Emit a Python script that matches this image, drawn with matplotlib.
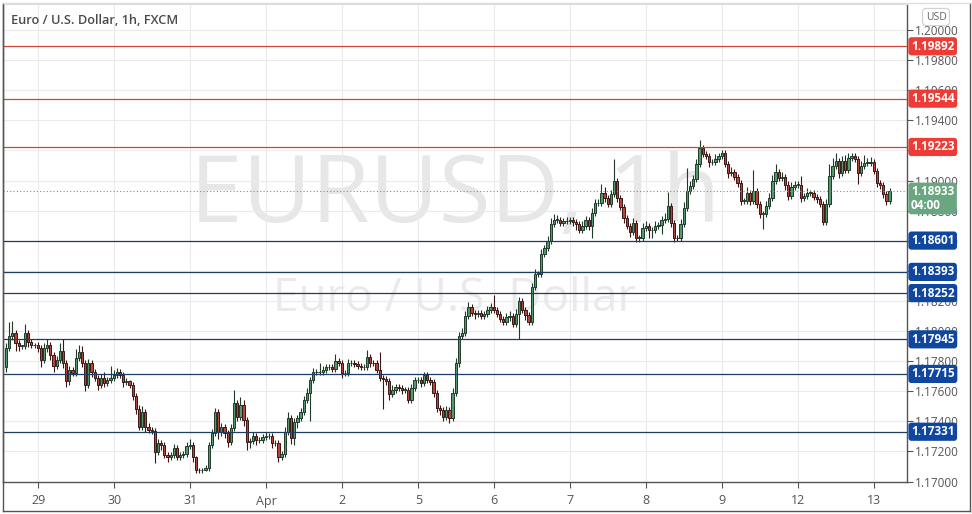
import matplotlib
matplotlib.use("Agg")
import matplotlib.pyplot as plt
import numpy as np
from matplotlib.lines import Line2D
from matplotlib.transforms import blended_transform_factory

# Data: EUR/USD 1h candles (closes), open = previous close
first_open = 1.1776
closes = [
    1.1789, 1.1797, 1.1799, 1.1792, 1.1790, 1.1790, 1.17985, 1.17925, 1.17905, 1.1791,
    1.1789, 1.1781, 1.1789, 1.17905, 1.1784, 1.17765, 1.17805, 1.1787, 1.17785, 1.1767,
    1.1774, 1.1772, 1.1782, 1.1786, 1.1779, 1.1764, 1.17785, 1.17725, 1.17685, 1.1764,
    1.17685, 1.17655, 1.17675, 1.1769, 1.1771, 1.17725, 1.17705, 1.1766, 1.17665, 1.1764,
    1.1757, 1.1748, 1.1736, 1.1746, 1.1736, 1.1734, 1.17335, 1.17195, 1.17255, 1.1724,
    1.17175, 1.1716, 1.17175, 1.1722, 1.1716, 1.17175, 1.1718, 1.17235, 1.1724, 1.1716,
    1.1708, 1.17075, 1.1708, 1.1709, 1.1724, 1.1732, 1.1746, 1.1733, 1.1736, 1.1732,
    1.1726, 1.17355, 1.1752, 1.1743, 1.1751, 1.1741, 1.1726, 1.1727, 1.1730, 1.17275,
    1.17275, 1.17295, 1.1730, 1.1730, 1.17255, 1.17255, 1.1716, 1.1718, 1.1733, 1.1742,
    1.1729, 1.17395, 1.1742, 1.1746, 1.1754, 1.1759, 1.17674, 1.17727, 1.17727, 1.1773,
    1.1774, 1.1776, 1.1776, 1.1775, 1.1780, 1.17785, 1.1772, 1.1772, 1.17785, 1.1779,
    1.1778, 1.17765, 1.1776, 1.1776, 1.17825, 1.1779, 1.17785, 1.1774, 1.1769, 1.1768,
    1.1767, 1.17585, 1.1761, 1.17625, 1.1762, 1.1761, 1.1761, 1.1754, 1.1762, 1.17674,
    1.17674, 1.17655, 1.17707, 1.17674, 1.1766, 1.1759, 1.1749, 1.17475, 1.1743, 1.17475,
    1.1742, 1.1759, 1.1779, 1.17965, 1.1799, 1.1810, 1.1816, 1.1812, 1.1811, 1.1812,
    1.1810, 1.18115, 1.18137, 1.18157, 1.18137, 1.1811, 1.18077, 1.18057, 1.1809, 1.1810,
    1.1805, 1.18115, 1.18197, 1.18137, 1.18104, 1.18057, 1.1829, 1.1838, 1.1838, 1.18515,
    1.18555, 1.1860, 1.1871, 1.1874, 1.1874, 1.18715, 1.1873, 1.1873, 1.18735, 1.18725,
    1.1871, 1.1867, 1.1870, 1.18735, 1.1870, 1.18787, 1.1885, 1.1885, 1.1892, 1.18885,
    1.18845, 1.1891, 1.1900, 1.18885, 1.18825, 1.1875, 1.1870, 1.18655, 1.1872, 1.1862,
    1.1862, 1.18685, 1.1870, 1.1867, 1.1867, 1.1870, 1.18705, 1.18735, 1.18747, 1.18833,
    1.1872, 1.1862, 1.18615, 1.18713, 1.18819, 1.18933, 1.18966, 1.1901, 1.1911, 1.19217,
    1.19178, 1.19165, 1.1912, 1.19125, 1.19145, 1.1916, 1.19185, 1.1911, 1.1905, 1.1906,
    1.19025, 1.18985, 1.18867, 1.18867, 1.1892, 1.18867, 1.18933, 1.18846, 1.1878, 1.1878,
    1.18833, 1.18886, 1.1900, 1.1906, 1.19018, 1.19025, 1.1897, 1.1890, 1.1896, 1.1897,
    1.1897, 1.18885, 1.1890, 1.1892, 1.1892, 1.1889, 1.1888, 1.18846, 1.18727, 1.18846,
    1.1903, 1.19098, 1.1913, 1.1905, 1.1913, 1.1907, 1.1915, 1.19165, 1.19145, 1.1905,
    1.19098, 1.19118, 1.19118, 1.19125, 1.19065, 1.18985, 1.18972, 1.18912, 1.18867, 1.18933,
]
# wick lengths in pips above / below the body
hi_wick = [
    3, 9, 8, 2, 2, 1, 6, 2, 2, 1, 2, 2, 3, 4, 2, 2, 3, 5, 8, 2,
    3, 2, 6, 5, 4, 2, 3, 2, 2, 2, 3, 4, 2, 8, 3, 3, 2, 2, 2, 1,
    2, 2, 3, 4, 2, 3, 2, 2, 3, 2, 2, 2, 2, 3, 2, 2, 2, 3, 4, 2,
    1, 1, 1, 2, 2, 3, 3, 2, 3, 2, 2, 3, 9, 2, 5, 3, 2, 2, 3, 2,
    2, 2, 3, 2, 2, 2, 2, 2, 3, 4, 2, 3, 2, 3, 3, 3, 2, 3, 2, 6,
    3, 2, 2, 2, 5, 2, 2, 2, 3, 2, 2, 2, 2, 2, 5, 2, 2, 2, 12, 2,
    2, 2, 3, 2, 2, 2, 2, 2, 3, 2, 2, 2, 2, 2, 2, 2, 2, 2, 2, 3,
    2, 3, 3, 3, 3, 3, 3, 2, 2, 2, 2, 2, 3, 3, 8, 2, 2, 2, 3, 3,
    2, 3, 3, 2, 2, 2, 3, 3, 2, 3, 2, 3, 4, 4, 3, 2, 2, 3, 2, 2,
    2, 2, 3, 3, 2, 3, 3, 3, 6, 4, 2, 3, 14, 2, 2, 2, 2, 2, 3, 2,
    2, 3, 3, 2, 2, 3, 2, 3, 4, 9, 2, 2, 2, 3, 4, 15, 3, 3, 3, 5,
    2, 2, 2, 2, 3, 2, 2, 2, 2, 3, 2, 2, 2, 2, 4, 2, 14, 2, 2, 2,
    3, 3, 4, 5, 2, 3, 2, 3, 3, 3, 3, 6, 2, 3, 2, 2, 2, 2, 2, 3,
    8, 5, 5, 2, 3, 4, 3, 2, 2, 2, 3, 5, 3, 3, 2, 2, 2, 2, 2, 2,
]
lo_wick = [
    3, 2, 3, 5, 3, 2, 2, 3, 2, 2, 3, 5, 2, 3, 3, 4, 2, 2, 3, 4,
    3, 2, 2, 2, 3, 4, 2, 3, 2, 3, 2, 3, 2, 2, 2, 2, 2, 3, 2, 2,
    3, 3, 2, 2, 3, 2, 2, 7, 2, 3, 2, 3, 2, 2, 2, 2, 2, 2, 2, 3,
    2, 2, 2, 1, 2, 2, 2, 5, 3, 3, 3, 2, 2, 3, 2, 4, 5, 4, 2, 3,
    2, 2, 2, 2, 3, 2, 3, 2, 2, 2, 4, 5, 4, 2, 2, 2, 19, 2, 2, 2,
    2, 2, 2, 2, 2, 2, 3, 2, 2, 2, 2, 2, 2, 2, 2, 3, 2, 2, 2, 20,
    3, 4, 2, 2, 2, 3, 2, 2, 2, 2, 2, 3, 2, 2, 2, 3, 3, 3, 3, 2,
    3, 2, 2, 3, 2, 2, 2, 2, 3, 2, 2, 2, 2, 2, 2, 2, 2, 2, 2, 2,
    2, 2, 17, 2, 3, 2, 2, 2, 2, 2, 2, 2, 2, 2, 2, 2, 2, 2, 2, 3,
    4, 2, 2, 2, 3, 8, 2, 2, 2, 3, 2, 2, 2, 3, 2, 3, 2, 3, 2, 3,
    3, 2, 2, 5, 5, 2, 2, 6, 2, 2, 3, 3, 2, 2, 2, 2, 2, 2, 2, 2,
    2, 2, 3, 2, 2, 2, 2, 2, 3, 2, 2, 3, 3, 2, 2, 3, 2, 3, 3, 10,
    2, 2, 2, 2, 2, 2, 3, 3, 2, 2, 2, 3, 2, 2, 2, 2, 3, 2, 2, 2,
    2, 2, 2, 3, 2, 2, 2, 2, 2, 7, 2, 2, 2, 2, 2, 3, 3, 3, 3, 2,
]
day_labels = ["29", "30", "31", "Apr", "2", "5", "6", "7", "8", "9", "12", "13"]
day_pos = [10.2, 34.2, 58.2, 82.2, 106.2, 130.2, 154.2, 178.2, 202.2, 226.2, 250.2, 274.2]

resistance = [1.19892, 1.19544, 1.19223]
support = [1.18601, 1.18393, 1.18252, 1.17945, 1.17715, 1.17331]
last_price = 1.18933
countdown = "04:00"

# ------------------------------------------------------------
W, H = 972, 514
fig = plt.figure(figsize=(W / 100, H / 100), dpi=100, facecolor="white")
ax = fig.add_axes([3 / W, (H - 482) / H, (907 - 3) / W, (482 - 4) / H])

closes = np.array(closes)
opens = np.concatenate([[first_open], closes[:-1]])
pip = 1e-4
highs = np.maximum(opens, closes) + np.array(hi_wick) * pip
lows = np.minimum(opens, closes) - np.array(lo_wick) * pip
x = np.arange(len(closes))
up = closes >= opens

up_fill, up_edge = "#529a6b", "#1f3a29"
dn_fill, dn_edge = "#b8443a", "#3a1714"
fills = np.where(up, up_fill, dn_fill)
edges = np.where(up, up_edge, dn_edge)

bottoms = np.minimum(opens, closes)
heights = np.maximum(np.abs(closes - opens), 0.00004)
ax.vlines(x, lows, highs, colors=edges, linewidth=0.8, zorder=3)
ax.bar(x, heights, bottom=bottoms, width=0.72, color=fills, edgecolor=edges,
       linewidth=0.7, zorder=4)

ax.set_xlim(-0.95, 284.5)
ax.set_ylim(1.16997, 1.20173)

# watermark
ax.text(0.5, 0.595, "EURUSD, 1h", transform=ax.transAxes, ha="center", va="center",
        fontsize=68, color="#e7e7e7", family="Open Sans", zorder=0)
ax.text(0.5, 0.383, "Euro / U.S. Dollar", transform=ax.transAxes, ha="center",
        va="center", fontsize=33, color="#eaeaea", family="Open Sans", zorder=0)

# levels
for p in resistance:
    ax.axhline(p, color="#d0463b", linewidth=0.9, zorder=5)
for p in support:
    ax.axhline(p, color="#1d3d62", linewidth=0.9, zorder=5)
ax.axhline(last_price, color="#8a8a8a", linewidth=0.8, linestyle=(0, (1, 2)), zorder=5)

# grid and axes
ax.set_yticks(np.arange(1.170, 1.20001, 0.002))
ax.yaxis.set_major_formatter(matplotlib.ticker.FuncFormatter(lambda v, _: f"{v:.5f}"))
ax.yaxis.tick_right()
ax.set_xticks(day_pos)
ax.set_xticklabels(day_labels)
ax.tick_params(axis="y", direction="out", length=4, width=0.8, color="#555555",
               labelcolor="#555555", labelsize=8.5, pad=2)
ax.tick_params(axis="x", direction="out", length=4, width=0.8, color="#555555",
               labelcolor="#555555", labelsize=9, pad=5)
for lab in ax.get_yticklabels() + ax.get_xticklabels():
    lab.set_family("Open Sans")
ax.grid(True, color="#ebebeb", linewidth=0.8, zorder=0)
ax.set_axisbelow(True)
for side in ["left", "right", "bottom"]:
    ax.spines[side].set_color("#555555")
    ax.spines[side].set_linewidth(1.0)
ax.spines["top"].set_color("#dddddd")

# price labels on the axis
tr = blended_transform_factory(ax.transAxes, ax.transData)
box_x = 1 + 4 / 904
for p in resistance:
    ax.text(box_x, p, f"{p:.5f}", transform=tr, ha="left", va="center", fontsize=8.5,
            color="white", weight="bold", family="Open Sans", clip_on=False, zorder=20,
            bbox=dict(boxstyle="round,pad=0.22,rounding_size=0.25", fc="#ef3b35", ec="none"))
for p in support:
    ax.text(box_x, p, f"{p:.5f}", transform=tr, ha="left", va="center", fontsize=8.5,
            color="white", weight="bold", family="Open Sans", clip_on=False, zorder=20,
            bbox=dict(boxstyle="round,pad=0.22,rounding_size=0.25", fc="#0f47a0", ec="none"))
ax.text(box_x, last_price - 0.00052, f"{last_price:.5f}\n{countdown}", transform=tr,
        ha="left", va="center", fontsize=8.5, color="white", weight="bold",
        family="Open Sans", linespacing=1.05, clip_on=False, zorder=20,
        bbox=dict(boxstyle="round,pad=0.22,rounding_size=0.25", fc="#6aa681", ec="none"))

# header texts
fig.text(11 / W, 1 - 20 / H, "Euro / U.S. Dollar, 1h, FXCM", fontsize=9.2,
         color="#4a4a4a", weight="semibold", family="Open Sans", va="center")
fig.text(936 / W, 1 - 17 / H, "USD", fontsize=7.5, color="#666666", family="Open Sans",
         ha="center", va="center",
         bbox=dict(boxstyle="round,pad=0.3,rounding_size=0.4", fc="white", ec="#cfcfcf", lw=0.8))

# outer frame
for xs, ys, c in [([3, 3], [3, 511], "#555555"), ([970, 970], [3, 511], "#555555"),
                  ([3, 970], [511, 511], "#555555"), ([3, 970], [3, 3], "#dddddd")]:
    fig.add_artist(Line2D([v / W for v in xs], [1 - v / H for v in ys], color=c, lw=1.0))

fig.savefig("out.png", dpi=100, facecolor="white")
